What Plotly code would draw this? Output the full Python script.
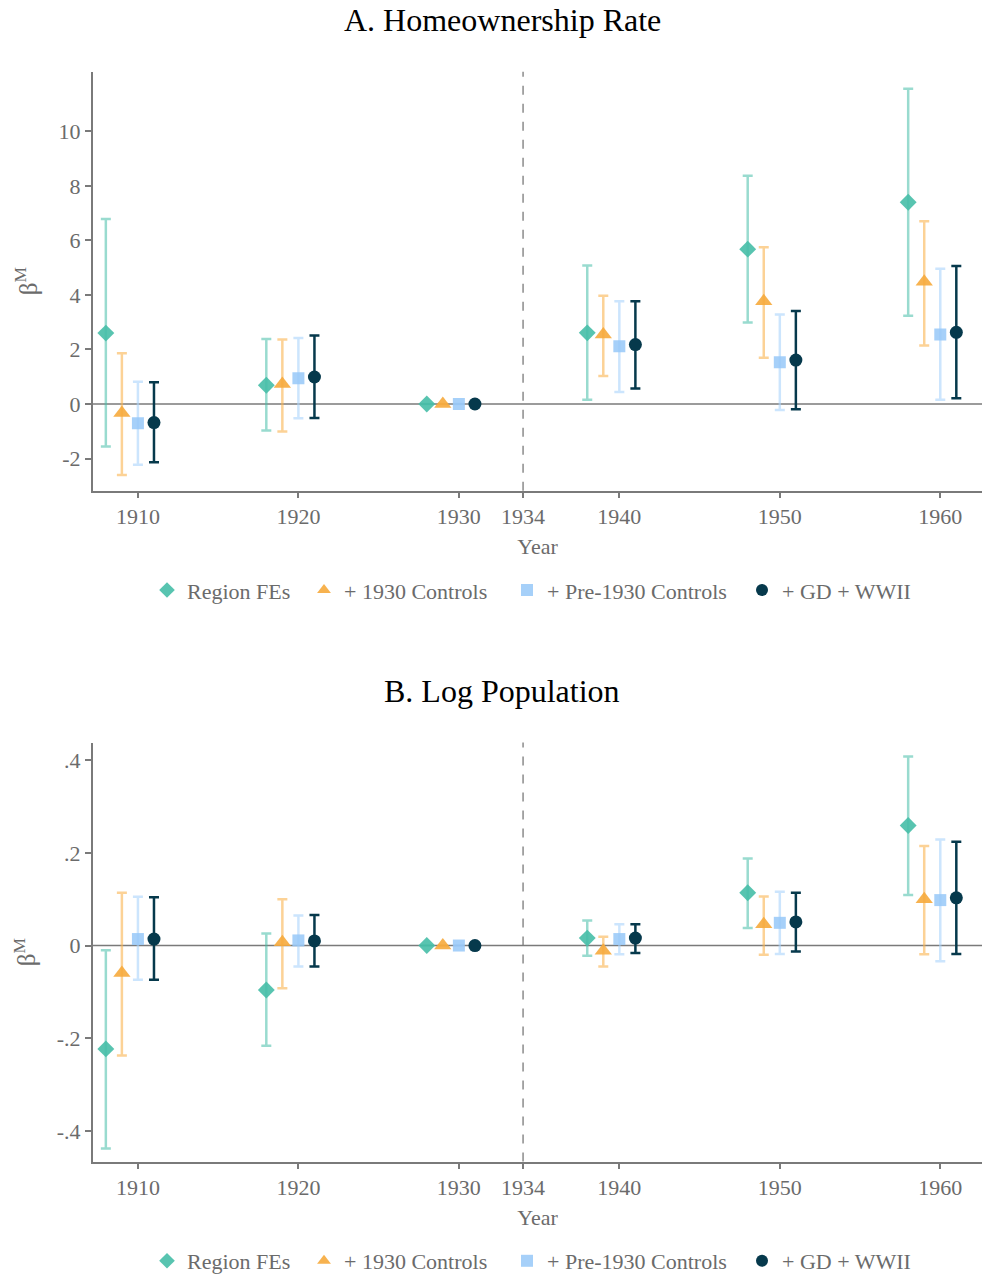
import plotly.graph_objects as go

# ---------------- data ----------------
years = [1910, 1920, 1930, 1940, 1950, 1960]
series_names = ["Region FEs", "+ 1930 Controls", "+ Pre-1930 Controls", "+ GD + WWII"]
x_tick_vals = [1910, 1920, 1930, 1934, 1940, 1950, 1960]
x_tick_text = ["1910", "1920", "1930", "1934", "1940", "1950", "1960"]

# Panel A: Homeownership Rate
a_region_est = [2.60, 0.69, 0.0, 2.61, 5.68, 7.40]
a_region_hi = [6.79, 2.38, 0.0, 5.08, 8.37, 11.56]
a_region_lo = [-1.56, -0.97, 0.0, 0.16, 2.99, 3.24]

a_c1930_est = [-0.33, 0.73, 0.0, 2.55, 3.77, 4.48]
a_c1930_hi = [1.86, 2.37, 0.0, 3.97, 5.75, 6.70]
a_c1930_lo = [-2.60, -1.01, 0.0, 1.03, 1.70, 2.15]

a_pre_est = [-0.71, 0.94, 0.0, 2.12, 1.53, 2.55]
a_pre_hi = [0.82, 2.42, 0.0, 3.77, 3.28, 4.96]
a_pre_lo = [-2.23, -0.52, 0.0, 0.44, -0.22, 0.16]

a_gd_est = [-0.68, 0.99, 0.0, 2.18, 1.61, 2.63]
a_gd_hi = [0.80, 2.51, 0.0, 3.77, 3.41, 5.06]
a_gd_lo = [-2.14, -0.51, 0.0, 0.57, -0.19, 0.21]

a_y_ticks = [-2, 0, 2, 4, 6, 8, 10]
a_y_text = ["-2", "0", "2", "4", "6", "8", "10"]

# Panel B: Log Population
b_region_est = [-0.223, -0.096, 0.0, 0.016, 0.114, 0.259]
b_region_hi = [-0.010, 0.026, 0.0, 0.054, 0.188, 0.408]
b_region_lo = [-0.438, -0.216, 0.0, -0.022, 0.038, 0.109]

b_c1930_est = [-0.059, 0.007, 0.0, -0.011, 0.046, 0.100]
b_c1930_hi = [0.114, 0.100, 0.0, 0.019, 0.106, 0.215]
b_c1930_lo = [-0.237, -0.092, 0.0, -0.045, -0.020, -0.019]

b_pre_est = [0.014, 0.011, 0.0, 0.014, 0.049, 0.098]
b_pre_hi = [0.105, 0.065, 0.0, 0.046, 0.116, 0.229]
b_pre_lo = [-0.074, -0.045, 0.0, -0.019, -0.018, -0.034]

b_gd_est = [0.014, 0.010, 0.0, 0.016, 0.051, 0.103]
b_gd_hi = [0.104, 0.066, 0.0, 0.046, 0.114, 0.224]
b_gd_lo = [-0.074, -0.045, 0.0, -0.016, -0.013, -0.018]

b_y_ticks = [-0.4, -0.2, 0, 0.2, 0.4]
b_y_text = ["-.4", "-.2", "0", ".2", ".4"]

# ---------------- styles ----------------
FONT = "Liberation Serif"
GRAY = "#6b6b6b"
AXIS = "#7a7a7a"
W, H, L = 982, 1282, 93
PW = W - L
offsets = [-2, -1, 0, 1]
symbols = ["diamond", "triangle-up", "square", "circle"]
sizes = [13, 15, 12, 13]
marker_colors = ["rgba(70,190,167,0.9)", "rgba(246,170,60,0.9)", "rgba(150,200,248,0.85)", "#06394c"]
err_colors = ["rgba(70,190,167,0.55)", "rgba(250,180,80,0.6)", "rgba(170,212,252,0.6)", "#06394c"]
legend_marker_px = [167, 324, 527, 762]   # pixel x of legend symbols
legend_rows_px = [593, 1267]              # pixel y of the legend rows

panels = [
    dict(est=[a_region_est, a_c1930_est, a_pre_est, a_gd_est],
         hi=[a_region_hi, a_c1930_hi, a_pre_hi, a_gd_hi],
         lo=[a_region_lo, a_c1930_lo, a_pre_lo, a_gd_lo],
         xa="x", ya="y"),
    dict(est=[b_region_est, b_c1930_est, b_pre_est, b_gd_est],
         hi=[b_region_hi, b_c1930_hi, b_pre_hi, b_gd_hi],
         lo=[b_region_lo, b_c1930_lo, b_pre_lo, b_gd_lo],
         xa="x2", ya="y2"),
]

fig = go.Figure()
legend_layouts = {}
n = 1
for pi, p in enumerate(panels):
    for i, name in enumerate(series_names):
        n += 1
        lname = f"legend{n}"
        est, hi, lo = p["est"][i], p["hi"][i], p["lo"][i]
        fig.add_trace(go.Scatter(
            x=[y + offsets[i] for y in years], y=est,
            mode="markers", name=name, showlegend=True,
            xaxis=p["xa"], yaxis=p["ya"], legend=lname,
            marker=dict(symbol=symbols[i], size=sizes[i], color=marker_colors[i], line=dict(width=0)),
            error_y=dict(type="data", symmetric=False,
                         array=[h - e for h, e in zip(hi, est)],
                         arrayminus=[e - l for e, l in zip(est, lo)],
                         color=err_colors[i], thickness=2.5, width=5),
        ))
        legend_layouts[lname] = dict(
            orientation="h", xanchor="left", yanchor="middle",
            x=(legend_marker_px[i] - 20 - L) / PW, y=1 - legend_rows_px[pi] / H,
            font=dict(family=FONT, size=22, color=GRAY), itemsizing="constant",
            bgcolor="rgba(0,0,0,0)", borderwidth=0,
        )

xcommon = dict(range=[1907.2, 1962.6], tickvals=x_tick_vals, ticktext=x_tick_text,
               showgrid=False, zeroline=False, showline=True, linecolor=AXIS, linewidth=2,
               ticks="outside", ticklen=5, tickwidth=2, tickcolor=AXIS,
               tickfont=dict(family=FONT, size=22, color=GRAY),
               title=dict(text="Year", font=dict(family=FONT, size=22, color=GRAY), standoff=11))
ycommon = dict(showgrid=False, zeroline=False, showline=True, linecolor=AXIS, linewidth=2,
               ticks="outside", ticklen=6, tickwidth=2, tickcolor=AXIS,
               tickfont=dict(family=FONT, size=22, color=GRAY),
               title=dict(text="β<sup>M</sup>", font=dict(family=FONT, size=25, color=GRAY), standoff=14))

fig.update_layout(
    width=W, height=H,
    margin=dict(l=L, r=0, t=0, b=0),
    paper_bgcolor="white", plot_bgcolor="white",
    font=dict(family=FONT, color=GRAY),
    showlegend=True,
    xaxis=dict(domain=[0, 1], anchor="y", **xcommon),
    yaxis=dict(domain=[1 - 493 / H, 1 - 72 / H], anchor="x", range=[-3.18, 12.19],
               tickvals=a_y_ticks, ticktext=a_y_text, **ycommon),
    xaxis2=dict(domain=[0, 1], anchor="y2", **xcommon),
    yaxis2=dict(domain=[1 - 1167 / H, 1 - 746 / H], anchor="x2", range=[-0.466, 0.438],
                tickvals=b_y_ticks, ticktext=b_y_text, **ycommon),
    annotations=[
        dict(text="A. Homeownership Rate", xref="paper", yref="paper",
             x=(502 - L) / PW, y=1 - 20 / H, xanchor="center", yanchor="middle",
             showarrow=False, font=dict(family=FONT, size=32, color="black")),
        dict(text="B. Log Population", xref="paper", yref="paper",
             x=(502 - L) / PW, y=1 - 694 / H, xanchor="center", yanchor="middle",
             showarrow=False, font=dict(family=FONT, size=32, color="black")),
    ],
    shapes=[
        dict(type="line", xref="x domain", yref="y", x0=0, x1=1, y0=0, y1=0,
             line=dict(color=AXIS, width=1.5), layer="below"),
        dict(type="line", xref="x", yref="y domain", x0=1934, x1=1934, y0=0, y1=1,
             line=dict(color=AXIS, width=1.3, dash="dash"), layer="below"),
        dict(type="line", xref="x2 domain", yref="y2", x0=0, x1=1, y0=0, y1=0,
             line=dict(color=AXIS, width=1.5), layer="below"),
        dict(type="line", xref="x2", yref="y2 domain", x0=1934, x1=1934, y0=0, y1=1,
             line=dict(color=AXIS, width=1.3, dash="dash"), layer="below"),
    ],
)
fig.update_layout(**legend_layouts)

fig.write_html("out.html")
